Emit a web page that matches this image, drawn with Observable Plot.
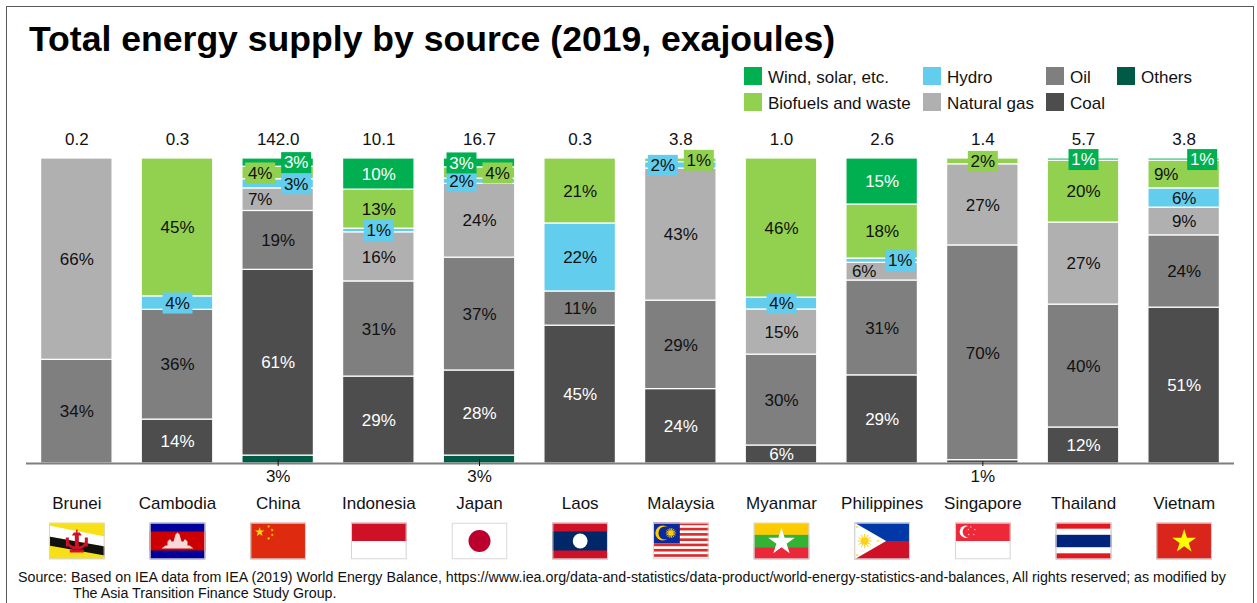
<!DOCTYPE html>
<html>
<head>
<meta charset="utf-8">
<script src="https://cdn.jsdelivr.net/npm/d3@7"></script>
<script src="https://cdn.jsdelivr.net/npm/@observablehq/plot@0.6"></script>
<style>
html,body{margin:0;padding:0;background:#fff}
#page{position:relative;width:1257px;height:603px;overflow:hidden;font-family:"Liberation Sans",Arial,sans-serif;color:#111}
#frame{position:absolute;left:6px;top:6px;width:1248px;height:600px;border:1.5px solid #5a5a5a;box-sizing:border-box}
#title{position:absolute;left:29px;top:17px;font-size:35.6px;font-weight:700;line-height:44px;color:#000;white-space:nowrap}
#legend div{position:absolute;font-size:17px;line-height:18px;white-space:nowrap}
#legend i{position:absolute;width:18px;height:18px}
#chart{position:absolute;left:0;top:124px}
#caption{position:absolute;left:18px;top:569px;font-size:14.24px;line-height:16px;white-space:nowrap;color:#111}
#caption span{display:block}
#caption span+span{padding-left:55px}
</style>
</head>
<body>
<div id="page">
<div id="frame"></div>
<div id="title">Total energy supply by source (2019, exajoules)</div>
<div id="legend"></div>
<div id="chart"></div>
<div id="caption"><span>Source: Based on IEA data from IEA (2019) World Energy Balance, https://www.iea.org/data-and-statistics/data-product/world-energy-statistics-and-balances, All rights reserved; as modified by</span><span>The Asia Transition Finance Study Group.</span></div>
</div>
<script>
const countries = ["Brunei","Cambodia","China","Indonesia","Japan","Laos","Malaysia","Myanmar","Philippines","Singapore","Thailand","Vietnam"];
const totals    = ["0.2","0.3","142.0","10.1","16.7","0.3","3.8","1.0","2.6","1.4","5.7","3.8"];

// Share of each source in percent, bottom of the stack first
const others   = [0,   0,    2.6,  0,    2.6,  0,    0,    0,    0,    0,    0,    0];
const coal     = [0,   14.4, 60.9, 28.5, 27.9, 45.2, 24.4, 5.9,  28.9, 1.1,  11.8, 51.1];
const oil      = [34,  36,   19.3, 31.2, 37,   11.2, 29,   29.8, 31.1, 70.4, 40.3, 23.7];
const gas      = [66,  0,    7.4,  16.1, 24.2, 0,    43.3, 14.8, 5.8,  26.6, 26.9, 9.1];
const hydro    = [0,   4.4,  3,    1.2,  1.7,  22.3, 2.1,  3.9,  1.4,  0,    0,    6.3];
const biofuels = [0,   45.2, 4.1,  12.8, 3.7,  21.3, 1.2,  45.6, 17.7, 1.9,  20.3, 9.1];
const wind     = [0,   0,    2.7,  10.2, 2.9,  0,    0,    0,    15.1, 0,    0.7,  0.7];

const sourceNames  = ["Others","Coal","Oil","Natural gas","Hydro","Biofuels and waste","Wind, solar, etc."];
const sourceValues = [others, coal, oil, gas, hydro, biofuels, wind];
const sourceColors = ["#005a46","#4d4d4d","#7f7f7f","#b0b0b0","#62cdec","#92d050","#00b050"];
const lightText    = ["Coal","Wind, solar, etc."];

// Labels moved off their segment: [country, source, side, boxed]
const movedLabels = [
  ["Cambodia","Hydro",0,1],["China","Wind, solar, etc.",1,1],["China","Biofuels and waste",-1,1],
  ["China","Hydro",1,1],["China","Natural gas",-1,0],["Indonesia","Hydro",0,1],
  ["Japan","Biofuels and waste",1,1],["Japan","Hydro",-1,1],["Japan","Wind, solar, etc.",-1,1],
  ["Malaysia","Hydro",-1,1],["Malaysia","Biofuels and waste",1,1],["Myanmar","Hydro",0,1],
  ["Philippines","Hydro",1,1],["Philippines","Natural gas",-1,0],["Singapore","Biofuels and waste",0,1],
  ["Thailand","Wind, solar, etc.",0,1],["Vietnam","Wind, solar, etc.",1,1],["Vietnam","Biofuels and waste",-1,0]
];
// Segments too thin to hold a label: the label hangs under the baseline
const hangingLabels = [["China","Others"],["Japan","Others"],["Singapore","Coal"]];

// Build the long table
const rows = [];
countries.forEach((country, i) => {
  let base = 0;
  sourceNames.forEach((source, j) => {
    const value = sourceValues[j][i];
    if (value > 0) rows.push({country, source, value, mid: base + value / 2, label: Math.round(value) + "%"});
    base += value;
  });
});
const key = (c, s) => c + "|" + s;
const movedMap = new Map(movedLabels.map(d => [key(d[0], d[1]), {side: d[2], boxed: d[3]}]));
const hangSet = new Set(hangingLabels.map(d => key(d[0], d[1])));
const isHang = d => hangSet.has(key(d.country, d.source));
const sideOf = d => (movedMap.get(key(d.country, d.source)) || {side: 0}).side;
const boxed = d => (movedMap.get(key(d.country, d.source)) || {boxed: 0}).boxed;
const textFill = {value: d => lightText.includes(d.source) ? "#fff" : "#111", scale: null};

// Legend
const legendItems = [
  ["Wind, solar, etc.",744,67],["Hydro",923,67],["Oil",1046,67],["Others",1117,67],
  ["Biofuels and waste",744,93],["Natural gas",923,93],["Coal",1046,93]
];
const legendEl = document.getElementById("legend");
legendItems.forEach(([name, x, y]) => {
  const sw = document.createElement("i");
  sw.style.cssText = `left:${x}px;top:${y}px;background:${sourceColors[sourceNames.indexOf(name)]}`;
  const tx = document.createElement("div");
  tx.style.cssText = `left:${x + 24}px;top:${y + 1.5}px`;
  tx.textContent = name;
  legendEl.append(sw, tx);
});

// Flags, drawn as small SVG images
function star(cx, cy, r, rot = -90, inner = 0.382) {
  const p = [];
  for (let k = 0; k < 10; k++) {
    const a = (rot + k * 36) * Math.PI / 180, q = k % 2 ? r * inner : r;
    p.push((cx + q * Math.cos(a)).toFixed(2) + "," + (cy + q * Math.sin(a)).toFixed(2));
  }
  return p.join(" ");
}
const R = (x, y, w, h, f) => `<rect x="${x}" y="${y}" width="${w}" height="${h}" fill="${f}"/>`;
const S = (cx, cy, r, f, rot) => `<polygon points="${star(cx, cy, r, rot)}" fill="${f}"/>`;
const C = (cx, cy, r, f) => `<circle cx="${cx}" cy="${cy}" r="${r}" fill="${f}"/>`;
function sun(cx, cy, r, f, n) {
  let out = C(cx, cy, r * .55, f);
  for (let k = 0; k < n; k++) {
    const a = k * 2 * Math.PI / n;
    out += `<line x1="${cx + r * .5 * Math.cos(a)}" y1="${cy + r * .5 * Math.sin(a)}" x2="${cx + r * Math.cos(a)}" y2="${cy + r * Math.sin(a)}" stroke="${f}" stroke-width="1"/>`;
  }
  return out;
}
const W = 56, H = 37;
const flagArt = {
  Brunei: R(0,0,W,H,"#f7e017") +
    `<polygon points="0,3 56,14 56,24 0,14" fill="#fff"/><polygon points="0,14 56,24 56,33 0,23" fill="#111"/>` +
    `<path d="M20 19 q-3 7 8 8 q11 -1 8 -8 q-1 5 -8 5 q-7 0 -8 -5z" fill="#cf1126"/><rect x="26" y="11" width="4" height="14" fill="#cf1126"/><path d="M23 13 h10 l-2 -3 h-6z" fill="#cf1126"/><rect x="27.3" y="7" width="1.4" height="4" fill="#cf1126"/><rect x="17" y="15" width="3" height="9" fill="#cf1126"/><rect x="36" y="15" width="3" height="9" fill="#cf1126"/><rect x="21" y="27" width="14" height="3" fill="#cf1126"/>`,
  Cambodia: R(0,0,W,H,"#00009c") + R(0,9,W,19,"#cc0000") +
    `<polygon points="12,26 16,23 18,23 18,19 20,17 21,17 22,19 24,19 26,12 28,10 30,12 32,19 34,19 35,17 36,17 38,19 38,23 40,23 44,26" fill="#f8d8d8"/>`,
  China: R(0,0,W,H,"#de2b10") + S(9.5,9.5,5,"#ffde00") + S(18.5,4,1.7,"#ffde00",-60) + S(22,7.5,1.7,"#ffde00",-30) + S(22,12.5,1.7,"#ffde00",0) + S(18.5,16,1.7,"#ffde00",-60),
  Indonesia: R(0,0,W,H,"#fff") + R(0,0,W,18.5,"#ce1126"),
  Japan: R(0,0,W,H,"#fff") + C(28,18.5,11,"#bc002d"),
  Laos: R(0,0,W,H,"#ce1126") + R(0,9,W,19,"#002868") + C(28,18.5,7.4,"#fff"),
  Malaysia: R(0,0,W,H,"#fff") + [0,2,4,6,8,10,12].map(k => R(0, k * 2.64, W, 2.64, "#dd2a2a")).join("") + R(0,0,27,21,"#0a2a9c") +
    C(10,10.5,7.5,"#ffcc00") + C(12.2,10.5,6.6,"#0a2a9c") + sun(18,10.5,5,"#ffcc00",14),
  Myanmar: R(0,0,W,12.4,"#fecb00") + R(0,12.3,W,12.4,"#34b233") + R(0,24.6,W,12.4,"#ea2839") + S(28,19.5,14,"#fff"),
  Philippines: R(0,0,W,18.5,"#0038a8") + R(0,18.5,W,18.5,"#ce1126") + `<polygon points="0,0 32,18.5 0,37" fill="#fff"/>` +
    sun(10.5,18.5,7,"#fcd116",12) + S(2.8,4.5,1.6,"#fcd116") + S(2.8,32.5,1.6,"#fcd116") + S(24,18.5,1.6,"#fcd116"),
  Singapore: R(0,0,W,H,"#fff") + R(0,0,W,18.5,"#ed2939") + C(11,9.2,6.2,"#fff") + C(13.4,9.2,5.6,"#ed2939") +
    S(16,4.5,1,"#fff") + S(20,7,1,"#fff") + S(19,12,1,"#fff") + S(14,12,1,"#fff") + S(13.5,7,1,"#fff"),
  Thailand: R(0,0,W,H,"#e3191f") + R(0,6.2,W,24.6,"#fff") + R(0,12.3,W,12.4,"#00247d"),
  Vietnam: R(0,0,W,H,"#da251d") + S(28,19,12.5,"#ffff00")
};
const flagSrc = c => "data:image/svg+xml," + encodeURIComponent(
  `<svg xmlns="http://www.w3.org/2000/svg" viewBox="0 0 ${W} ${H}" width="${W}" height="${H}">${flagArt[c]}<rect x=".6" y=".6" width="${W - 1.2}" height="${H - 1.2}" fill="none" stroke="#d6d6d6" stroke-width="1.2"/></svg>`);

// Callout box behind a moved label
const boxSymbol = {draw(ctx) { ctx.rect(-15, -10.5, 30, 21); }};

const labelFont = {fontFamily: "'Liberation Sans', Arial, sans-serif", fontSize: 17};
const step = 18;

const marks = [
  Plot.barY(rows, {x: "country", y: "value", fill: "source", order: sourceNames, stroke: "#fff", strokeWidth: 1.2}),
  Plot.ruleY([0], {stroke: "#7f7f7f", strokeWidth: 2}),
  ...[-1, 0, 1].flatMap(side => {
    const moved = rows.filter(d => !isHang(d) && sideOf(d) === side);
    return [
      Plot.dot(moved.filter(boxed), {x: "country", y: "mid", fill: "source", symbol: boxSymbol, dx: side * step}),
      Plot.text(moved, {x: "country", y: "mid", text: "label", fill: textFill, dx: side * step, dy: 0.3, ...labelFont})
    ];
  }),
  Plot.ruleX(rows.filter(isHang), {x: "country", y1: "mid", y2: 0, stroke: "#111", strokeWidth: 1, insetBottom: -3}),
  Plot.text(rows.filter(isHang), {x: "country", frameAnchor: "bottom", dy: 18, text: "label", fill: "#111", ...labelFont}),
  Plot.text(countries, {x: d => d, y: 100, dy: -19, text: (d, i) => totals[i], fill: "#111", ...labelFont}),
  Plot.axisX({tickSize: 0, tickPadding: 33, label: null, fill: "#111", ...labelFont}),
  Plot.image(countries, {x: d => d, frameAnchor: "bottom", dy: 77.5, src: flagSrc, width: 56, height: 37})
];

const plot = Plot.plot({
  width: 1257, height: 438,
  marginTop: 34, marginBottom: 99, marginLeft: 26, marginRight: 23,
  style: {background: "transparent", overflow: "visible", fontFamily: "'Liberation Sans', Arial, sans-serif"},
  x: {domain: countries, paddingInner: 0.29, paddingOuter: 0.145, round: false, label: null},
  y: {domain: [0, 100], axis: null, label: null},
  color: {domain: sourceNames, range: sourceColors},
  marks
});
document.getElementById("chart").append(plot);
</script>
</body>
</html>
